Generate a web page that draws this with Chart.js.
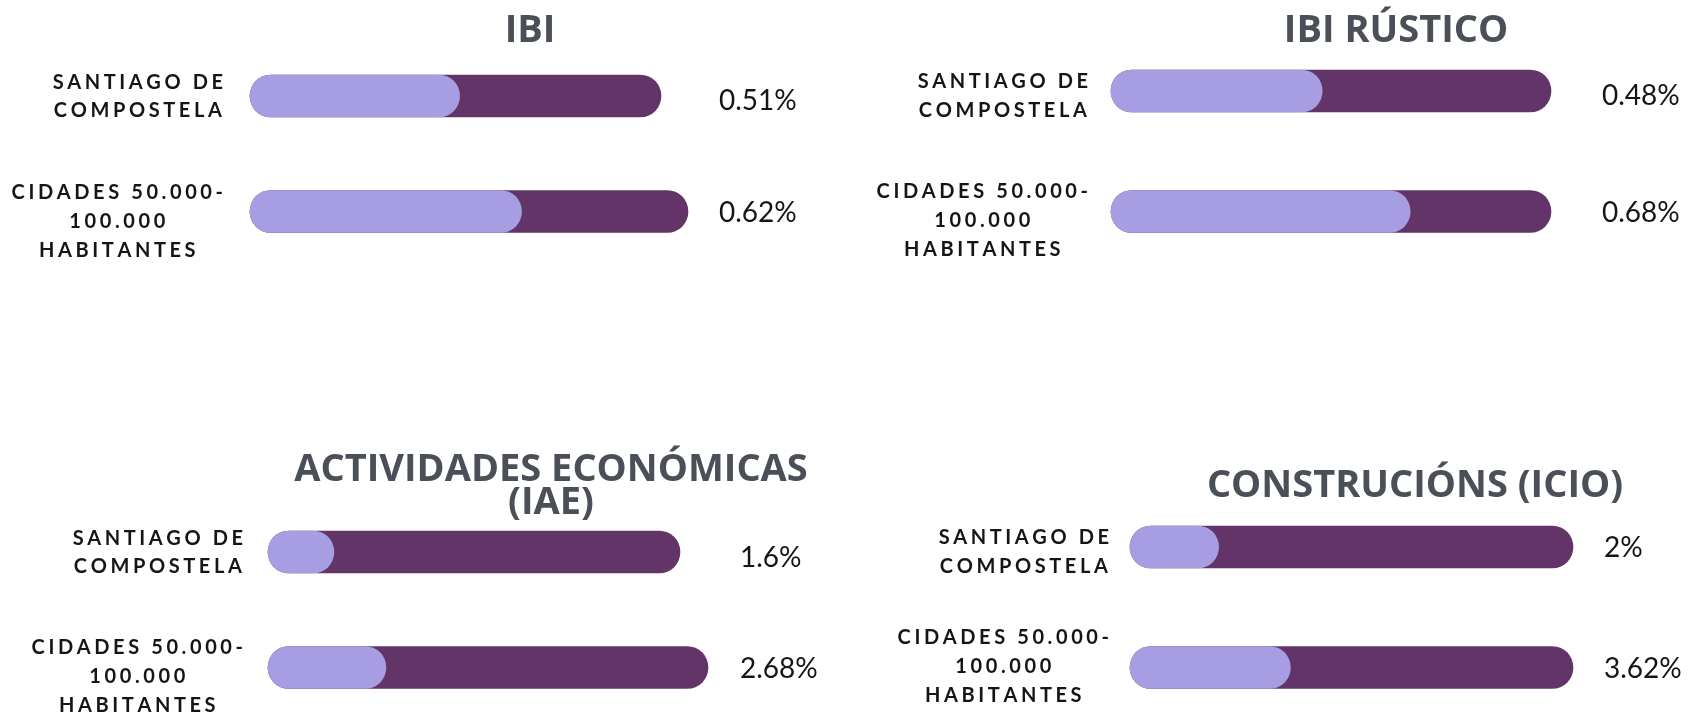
<!DOCTYPE html>
<html>
<head>
<meta charset="utf-8">
<script src="https://cdn.jsdelivr.net/npm/chart.js@4.4.1/dist/chart.umd.min.js"></script>
<style>
  html, body { margin: 0; padding: 0; background: #ffffff; width: 1688px; height: 713px; overflow: hidden; }
  canvas { position: absolute; left: 0; top: 0; }
</style>
</head>
<body>
<canvas id="c0" width="1688" height="713"></canvas>
<canvas id="c1" width="1688" height="713"></canvas>
<canvas id="c2" width="1688" height="713"></canvas>
<canvas id="c3" width="1688" height="713"></canvas>
<script>
// ---------- DATA ----------
const categories = [
  ["SANTIAGO DE", "COMPOSTELA"],
  ["CIDADES 50.000-", "100.000", "HABITANTES"]
];
const panelTitles = [
  ["IBI"],
  ["IBI RÚSTICO"],
  ["ACTIVIDADES ECONÓMICAS", "(IAE)"],
  ["CONSTRUCIÓNS (ICIO)"]
];
const ibiValues        = [0.51, 0.62];
const ibiRusticoValues = [0.48, 0.68];
const iaeValues        = [1.6, 2.68];
const icioValues       = [2, 3.62];
const scaleMax         = [1, 1, 10, 10];   // full length of the track, in %
const seriesValues = [ibiValues, ibiRusticoValues, iaeValues, icioValues];

// ---------- STYLE / LAYOUT ----------
const LIGHT = '#a79de2';
const DARK  = '#633468';
const W = 1688, H = 713;
const LS = 3.6;          // label letter spacing
const LINE = 28.8;       // label line height
const CAP = 14;          // label cap height

const layouts = [
  { left: 250,  right: 688,  rows: [96, 211.5],  row1Stretch: 438 / 411, titleX: 530,  titleBase: [42],
    labelRight: 223,  labelDy: [0, 9.5],   valueGap: 31, valueDy: [4, 0] },
  { left: 1111, right: 1551, rows: [91, 211.5],  row1Stretch: 1,         titleX: 1396, titleBase: [42],
    labelRight: 1088, labelDy: [4.5, 8.5], valueGap: 51, valueDy: [4, 0] },
  { left: 268,  right: 708,  rows: [552, 667.5], row1Stretch: 440 / 412, titleX: 551,  titleBase: [481, 514],
    labelRight: 243,  labelDy: [0, 8.5],   valueGap: 32, valueDy: [5, 0] },
  { left: 1130, right: 1573, rows: [547, 667.5], row1Stretch: 1,         titleX: 1415, titleBase: [497],
    labelRight: 1109, labelDy: [4.5, -1.5], valueGap: 31, valueDy: [0, 0] }
];

function spacedWidth(ctx, s, ls) {
  let w = 0;
  for (const ch of s) w += ctx.measureText(ch).width + ls;
  return w - ls;
}
function drawSpaced(ctx, s, x, y, ls) {
  let cx = x;
  for (const ch of s) {
    ctx.fillText(ch, cx, y);
    cx += ctx.measureText(ch).width + ls;
  }
}

function makeTextPlugin(p) {
  const L = layouts[p];
  return {
    id: 'panelText' + p,
    afterDatasetsDraw(chart) {
      const ctx = chart.ctx;
      const ys = chart.scales.y, xs = chart.scales.x;
      ctx.save();
      // title
      ctx.fillStyle = '#4a4f58';
      ctx.font = '700 38px "Open Sans"';
      ctx.textAlign = 'center';
      ctx.textBaseline = 'alphabetic';
      panelTitles[p].forEach((t, i) => ctx.fillText(t, L.titleX, L.titleBase[i]));
      // category labels
      ctx.fillStyle = '#151515';
      ctx.font = '700 20px Lato';
      ctx.textAlign = 'left';
      categories.forEach((lines, i) => {
        const cy = ys.getPixelForValue(i);
        const widths = lines.map(s => spacedWidth(ctx, s, LS));
        const maxW = Math.max(...widths);
        const cx = L.labelRight - maxW / 2;
        const first = cy - (lines.length - 1) * LINE / 2 + CAP / 2 + L.labelDy[i];
        lines.forEach((s, j) => drawSpaced(ctx, s, cx - widths[j] / 2, first + j * LINE, LS));
      });
      // value labels
      ctx.font = '400 28px Lato';
      ctx.fillStyle = '#151515';
      seriesValues[p].forEach((v, i) => {
        const cy = ys.getPixelForValue(i);
        ctx.fillText(String(v) + '%', xs.right + L.valueGap, cy + 10 + L.valueDy[i]);
      });
      ctx.restore();
    }
  };
}

for (let p = 0; p < 4; p++) {
  const L = layouts[p];
  const vals = seriesValues[p];
  const max = scaleMax[p];
  const common = { barThickness: 42, borderRadius: 21, borderSkipped: false, grouped: false, clip: false, borderWidth: 0 };
  new Chart(document.getElementById('c' + p), {
    type: 'bar',
    data: {
      labels: categories,
      datasets: [
        Object.assign({ data: [vals[0], null], xAxisID: 'x1', backgroundColor: LIGHT, order: 0 }, common),
        Object.assign({ data: [null, vals[1]], xAxisID: 'x',  backgroundColor: LIGHT, order: 0 }, common),
        Object.assign({ data: [max, null],     xAxisID: 'x1', backgroundColor: DARK,  order: 1 }, common),
        Object.assign({ data: [null, max],     xAxisID: 'x',  backgroundColor: DARK,  order: 1 }, common)
      ]
    },
    options: {
      indexAxis: 'y',
      responsive: false,
      animation: false,
      events: [],
      layout: { padding: { left: L.left, right: W - L.right, top: L.rows[0], bottom: H - L.rows[1] } },
      scales: {
        y:  { type: 'category', offset: false, display: false },
        x:  { type: 'linear', min: 0, max: max, display: false },
        x1: { type: 'linear', axis: 'x', min: 0, max: max * L.row1Stretch, display: false }
      },
      plugins: { legend: { display: false }, tooltip: { enabled: false } }
    },
    plugins: [makeTextPlugin(p)]
  });
}
</script>
</body>
</html>
